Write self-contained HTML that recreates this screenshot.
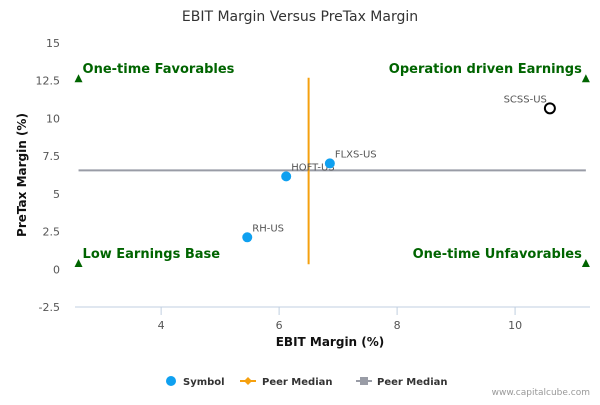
<!DOCTYPE html>
<html><head><meta charset="utf-8"><style>
body{margin:0;background:#fff;font-family:"Liberation Sans",sans-serif}
svg text{font-family:"DejaVu Sans","Liberation Sans",sans-serif}
</style></head><body>
<svg id="c" width="600" height="400" xmlns="http://www.w3.org/2000/svg">
<text x="300" y="21" text-anchor="middle" font-size="14" fill="#333">EBIT Margin Versus PreTax Margin</text>
<g id="plot"></g>
<text x="330" y="346" text-anchor="middle" font-size="12" font-weight="bold" fill="#111">EBIT Margin (%)</text>
<text transform="translate(26,175) rotate(-90)" text-anchor="middle" font-size="12" font-weight="bold" fill="#111">PreTax Margin (%)</text>
<g>
 <g><circle cx="171" cy="381" r="5" fill="#0fa0f0"/><text x="183" y="385" font-size="10" font-weight="bold" fill="#333">Symbol</text></g>
 <g><line x1="240" y1="381" x2="256" y2="381" stroke="#f5a00f" stroke-width="2"/><path d="M248 377 L252 381 L248 385 L244 381Z" fill="#f5a00f"/><text x="262" y="385" font-size="10" font-weight="bold" fill="#333">Peer Median</text></g>
 <g><line x1="356" y1="381" x2="372" y2="381" stroke="#999ca6" stroke-width="2"/><rect x="360" y="377" width="8" height="8" fill="#999ca6"/><text x="377" y="385" font-size="10" font-weight="bold" fill="#333">Peer Median</text></g>
</g>
<text x="590" y="395" text-anchor="end" font-size="9" fill="#999">www.capitalcube.com</text>
</svg>
<script>
const names=["RH-US","HOFT-US","FLXS-US","SCSS-US"];
const ebit=[5.46,6.12,6.86,10.59];
const pretax=[2.12,6.16,7.02,10.67];
const xTicks=[4,6,8,10];
const yTicks=[-2.5,0,2.5,5,7.5,10,12.5,15];
const medianX=6.5, medianY=6.56;
const xMin=2.54,xMax=11.27,yMin=-2.5,yMax=15;
const L=75,R=590,T=43,B=307;
const sx=v=>L+(v-xMin)/(xMax-xMin)*(R-L);
const sy=v=>B-(v-yMin)/(yMax-yMin)*(B-T);
const NS="http://www.w3.org/2000/svg",g=document.getElementById("plot");
function mk(t,a,txt){const e=document.createElementNS(NS,t);for(const k in a)e.setAttribute(k,a[k]);if(txt!=null)e.textContent=txt;g.appendChild(e);return e;}
let e=mk("line",{x1:L,y1:B,x2:R,y2:B,stroke:"#c0cfe0"});


xTicks.forEach(v=>{let t=mk("line",{x1:sx(v),y1:B,x2:sx(v),y2:B+8,stroke:"#c0cfe0"});


let l=mk("text",{x:sx(v),y:B+22,"text-anchor":"middle","font-size":11,fill:"#555"},v);

});
yTicks.forEach(v=>{let l=mk("text",{x:60,y:sy(v)+4,"text-anchor":"end","font-size":11,fill:"#555"},v);

});
e=mk("line",{x1:sx(2.6),y1:sy(medianY),x2:sx(11.2),y2:sy(medianY),stroke:"#999ca6",'stroke-width':2});


e=mk("line",{x1:sx(medianX),y1:sy(12.7),x2:sx(medianX),y2:sy(0.33),stroke:"#f5a00f",'stroke-width':2});


const quad=[["One-time Favorables",2.6,12.6,"start"],["Operation driven Earnings",11.2,12.6,"end"],["Low Earnings Base",2.6,0.35,"start"],["One-time Unfavorables",11.2,0.35,"end"]];
quad.forEach(q=>{const x=sx(q[1]),y=sy(q[2]);
let t=mk("path",{d:`M${x} ${y-5} L${x+4} ${y+3} L${x-4} ${y+3}Z`,fill:"#006400"});


let l=mk("text",{x:q[3]=="start"?x+4:x-4,y:y-6,"text-anchor":q[3],"font-size":13,"font-weight":"bold",fill:"#006400"},q[0]);

});
names.forEach((n,i)=>{const x=sx(ebit[i]),y=sy(pretax[i]);const own=n=="SCSS-US";
let c=mk("circle",own?{cx:x,cy:y,r:5,fill:"#fff",stroke:"#000","stroke-width":2}:{cx:x,cy:y,r:5,fill:"#0fa0f0"});


let l=mk("text",own?{x:x-3,y:y-6,"text-anchor":"end","font-size":10,fill:"#555"}:{x:x+5,y:y-6,"font-size":10,fill:"#555"},n);

});
</script>
</body></html>
